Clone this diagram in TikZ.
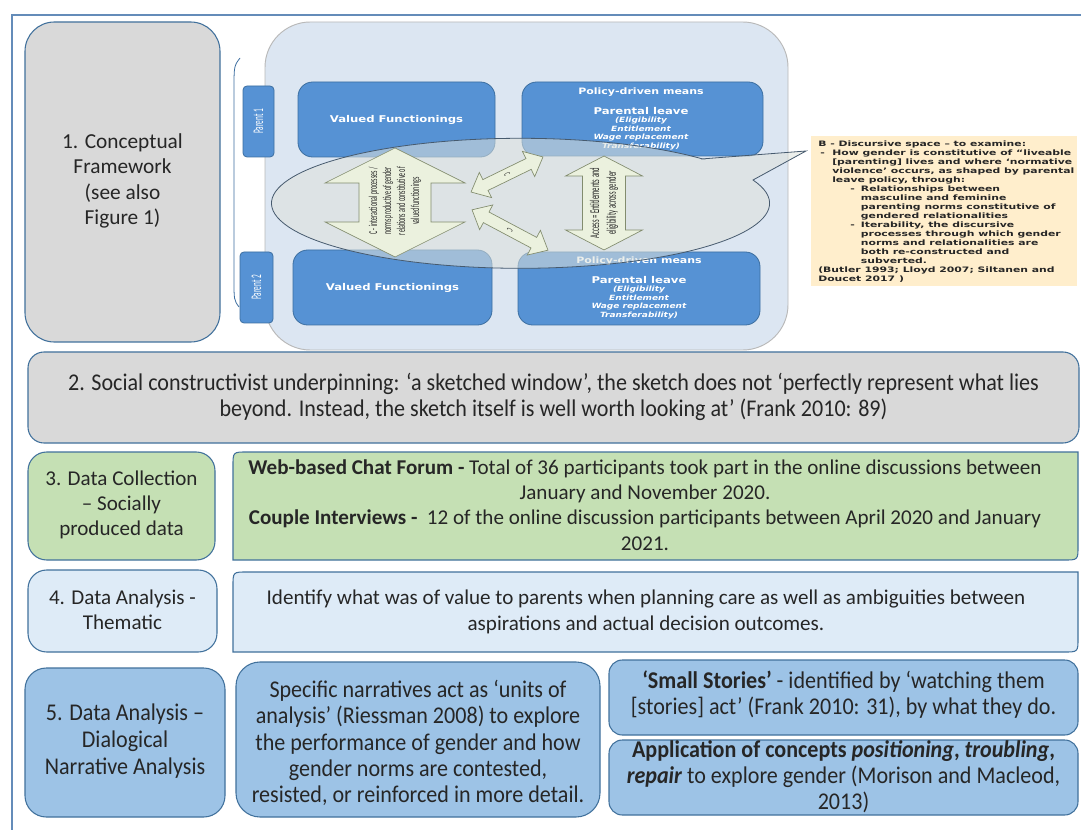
\documentclass[tikz,border=0pt]{standalone}
\usepackage{fontspec}
\setmainfont{Carlito}
\newfontfamily\cond[FakeStretch=0.92,Ligatures=TeX]{Carlito}
\newfontfamily\vcond[FakeStretch=0.5,Ligatures=TeX]{Carlito}
\newfontfamily\widey[FakeStretch=1.25,Ligatures=TeX]{DejaVu Sans}
\newfontfamily\wider[FakeStretch=1.45,Ligatures=TeX]{DejaVu Sans}
\definecolor{frameblue}{RGB}{100,140,185}
\definecolor{bord}{RGB}{65,113,156}
\definecolor{boxgray}{RGB}{217,217,217}
\definecolor{boxgreen}{RGB}{197,224,180}
\definecolor{boxlblue}{RGB}{222,235,247}
\definecolor{boxmblue}{RGB}{157,195,230}
\definecolor{figbg}{RGB}{220,230,242}
\definecolor{figblue}{RGB}{86,146,212}
\definecolor{figbord}{RGB}{60,110,160}
\definecolor{arrfill}{RGB}{235,241,222}
\definecolor{arrbord}{RGB}{130,140,110}
\definecolor{ellfill}{RGB}{222,226,220}
\definecolor{ellbord}{RGB}{70,90,110}
\definecolor{yel}{RGB}{255,238,204}
\definecolor{txt}{RGB}{38,38,38}
\tikzset{
  bx/.style={draw=bord, line width=0.8pt},
  fb/.style={draw=figbord, line width=0.6pt, fill=figblue, rounded corners=11pt},
  blk/.style={draw=arrbord, line width=0.5pt, fill=arrfill},
  tx/.style={align=center, inner sep=0pt, text=txt},
  big/.style={tx, font=\fontsize{16}{19}\selectfont},
  mid/.style={tx, font=\fontsize{15.8}{19}\selectfont},
  cnd/.style={tx, font=\cond\fontsize{18}{19.6}\selectfont},
  wt/.style={inner sep=0pt, text=white, align=center},
}
\newcommand\diagbox[5]{\draw[#5] (#1,#4) -- (#1,{#2+14}) .. controls (#1,#2) .. ({#1+14},#2) -- (#3,#2) -- (#3,{#4-14}) .. controls (#3,#4) .. ({#3-14},#4) -- cycle;}
\begin{document}
\begin{tikzpicture}[x=0.75pt,y=-0.75pt]
\useasboundingbox (0,0) rectangle (1081,830);
\fill[white] (0,0) rectangle (1081,830);
% outer frame
\draw[frameblue, line width=1.1pt] (12,840) -- (12,15) -- (1090,15);

% ---- box 1
\draw[bx, fill=boxgray, rounded corners=22pt] (25,22) rectangle (220,342);
\node[big] (b1) at (122.5,181) {1. Conceptual\\Framework\\(see also\\Figure 1)};

% ---- inner figure
\draw[fill=figbg, draw=gray!55, line width=0.7pt, rounded corners=34pt] (265,22) rectangle (788,350);
\draw[figbord, line width=0.6pt] (240,58) .. controls (234,66) .. (234,90) -- (234,280) .. controls (234,300) .. (239,307);
\draw[fb, rounded corners=3pt] (243,86) rectangle (274,157);
\draw[fb, rounded corners=3pt] (240,252) rectangle (273,323);
\node[wt, rotate=90, font=\vcond\fontsize{11}{12}\selectfont] (p1) at (258.5,121.5) {Parent 1};
\node[wt, rotate=90, font=\vcond\fontsize{11}{12}\selectfont] (p2) at (256.5,287.5) {Parent 2};
\draw[fb] (298,82) rectangle (495,157);
\draw[fb] (293,250) rectangle (492,325);
\node[wt, font=\widey\bfseries\fontsize{7}{8}\selectfont] (vf1) at (396.5,119.5) {Valued Functionings};
\node[wt, font=\widey\bfseries\fontsize{7}{8}\selectfont] (vf2) at (392.5,287.5) {Valued Functionings};
\draw[fb] (522,82) rectangle (763,156);
\draw[fb] (518,252) rectangle (760,325);
\node[wt, font=\widey\bfseries\fontsize{6.6}{8}\selectfont] (pd1) at (641,92) {Policy-driven means};
\node[wt, anchor=north, font=\widey\bfseries\fontsize{5.4}{6.4}\selectfont] (pl1) at (641,107)
  {{\fontsize{7}{8}\selectfont Parental leave}\\\itshape (Eligibility\\\itshape Entitlement\\\itshape Wage replacement\\\itshape Transferability)};
\node[wt, font=\widey\bfseries\fontsize{6.6}{8}\selectfont] (pd2) at (639,261) {Policy-driven means};
\node[wt, anchor=north, font=\widey\bfseries\fontsize{5.4}{6.4}\selectfont] (pl2) at (639,276)
  {{\fontsize{7}{8}\selectfont Parental leave}\\\itshape (Eligibility\\\itshape Entitlement\\\itshape Wage replacement\\\itshape Transferability)};

% ---- ellipse callout
\draw[fill=ellfill, fill opacity=0.55, draw=ellbord, line width=0.6pt]
  (701,159) -- (806,151) -- (753,180) arc[start angle=-21, end angle=317, x radius=249, y radius=65] -- cycle;

% ---- block arrows
\draw[blk] (395,148) -- (465,183) -- (431,183) -- (431,222) -- (465,222) -- (395,257) -- (325,222) -- (359,222) -- (359,183) -- (325,183) -- cycle;
\node[tx, rotate=90, font=\vcond\fontsize{9}{10.5}\selectfont] (ct) at (395,201) {C - interactional processes /\\norms productive of gender\\relations and constitutive of\\valued functionings};
\draw[blk] (604,156) -- (642.5,176) -- (625.5,176) -- (625.5,230) -- (642.5,230) -- (604,250) -- (565.5,230) -- (582.5,230) -- (582.5,176) -- (565.5,176) -- cycle;
\node[tx, rotate=90, font=\vcond\fontsize{10}{12.5}\selectfont] (at) at (604,203) {Access = Entitlements and\\eligibility across gender};
\begin{scope}[shift={(507,174.5)}, rotate=26]
\draw[blk] (-40,0) -- (-24,14) -- (-24,6) -- (24,6) -- (24,14) -- (40,0) -- (24,-14) -- (24,-6) -- (-24,-6) -- (-24,-14) -- cycle;
\node[tx, rotate=-64, font=\vcond\fontsize{7}{8}\selectfont] (c1) at (0,0) {C};
\end{scope}
\begin{scope}[shift={(510,230)}, rotate=-28]
\draw[blk] (-43,0) -- (-27,14) -- (-27,6) -- (27,6) -- (27,14) -- (43,0) -- (27,-14) -- (27,-6) -- (-27,-6) -- (-27,-14) -- cycle;
\node[tx, rotate=-118, font=\vcond\fontsize{7}{8}\selectfont] (c2) at (0,0) {C};
\end{scope}

% ---- yellow note
\fill[yel] (811,136) rectangle (1077,286);
\node[anchor=north west, inner sep=0pt, align=left, text=txt, font=\wider\bfseries\fontsize{5.6}{6.72}\selectfont] (note) at (818,141) {%
B - Discursive space – to examine:\\
\hspace*{1.5pt}\makebox[9pt][l]{-}How gender is constitutive of “liveable\\
\hspace*{10.5pt}{[parenting]} lives and where ‘normative\\
\hspace*{10.5pt}violence’ occurs, as shaped by parental\\
\hspace*{10.5pt}leave policy, through:\\
\hspace*{24pt}\makebox[8pt][l]{-}Relationships between\\
\hspace*{32pt}masculine and feminine\\
\hspace*{32pt}parenting norms constitutive of\\
\hspace*{32pt}gendered relationalities\\
\hspace*{24pt}\makebox[8pt][l]{-}Iterability, the discursive\\
\hspace*{32pt}processes through which gender\\
\hspace*{32pt}norms and relationalities are\\
\hspace*{32pt}both re-constructed and\\
\hspace*{32pt}subverted.\\
(Butler 1993; Lloyd 2007; Siltanen and\\
Doucet 2017 )};

% ---- box 2
\draw[bx, fill=boxgray, rounded corners=12pt] (28,352) rectangle (1079,443);
\node[cnd] (b2) at (553.5,397) {2. Social constructivist underpinning: ‘a sketched window’, the sketch does not ‘perfectly represent what lies\\beyond. Instead, the sketch itself is well worth looking at’ (Frank 2010: 89)};

% ---- box 3
\draw[bx, fill=boxgreen, rounded corners=14pt] (28,452) rectangle (215,560);
\node[mid] (b3) at (121.5,505) {3. Data Collection\\– Socially\\produced data};
\diagbox{233}{452}{1078}{560}{bx, fill=boxgreen}
\node[mid] (b3r) at (645,505) {\textbf{Web-based Chat Forum -} Total of 36 participants took part in the online discussions between\\January and November 2020.\\\textbf{Couple Interviews -}\ \ 12 of the online discussion participants between April 2020 and January\\2021.};

% ---- box 4
\draw[bx, fill=boxlblue, rounded corners=14pt] (28,570) rectangle (217,652);
\node[mid] (b4) at (122.5,610) {4. Data Analysis -\\Thematic};
\diagbox{233}{572}{1078}{652}{bx, fill=boxlblue}
\node[mid] (b4r) at (646,612) {Identify what was of value to parents when planning care as well as ambiguities between\\aspirations and actual decision outcomes.};

% ---- box 5
\draw[bx, fill=boxmblue, rounded corners=16pt] (25,668) rectangle (225,817);
\node[cnd, font=\cond\fontsize{18}{20.5}\selectfont] (b5) at (125,741) {5. Data Analysis –\\Dialogical\\Narrative Analysis};
\draw[bx, fill=boxmblue, rounded corners=18pt] (236,662) rectangle (600,817);
\node[cnd] (b5m) at (418,743) {Specific narratives act as ‘units of\\analysis’ (Riessman 2008) to explore\\the performance of gender and how\\gender norms are contested,\\resisted, or reinforced in more detail.};
\draw[bx, fill=boxmblue, rounded corners=10pt] (609,660) rectangle (1078,735);
\node[cnd] (b5a) at (843.5,695) {\textbf{‘Small Stories’} - identified by ‘watching them\\{[stories]} act’ (Frank 2010: 31), by what they do.};
\draw[bx, fill=boxmblue, rounded corners=10pt] (609,740) rectangle (1078,815);
\node[cnd] (b5b) at (843.5,777) {\textbf{Application of concepts \textit{positioning}, \textit{troubling},}\\\textbf{\textit{repair}} to explore gender (Morison and Macleod,\\2013)};
\end{tikzpicture}
\end{document}
